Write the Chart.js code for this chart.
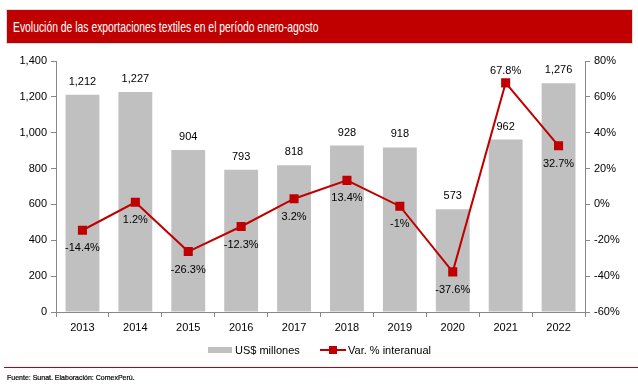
<!DOCTYPE html>
<html><head><meta charset="utf-8">
<script src="https://cdn.jsdelivr.net/npm/chart.js@4"></script>
<style>
html,body{margin:0;padding:0;background:#fff;width:638px;height:391px;overflow:hidden;font-family:"Liberation Sans",Arial,sans-serif;}
#wrap{position:absolute;left:0;top:0;width:638px;height:391px;}
#title{position:absolute;left:6px;top:9px;width:627px;height:35px;background:#C00000;color:#fff;font-size:14.5px;line-height:34px;box-sizing:border-box;padding-left:6px;border:1px solid #dcdcdc;white-space:nowrap;}
#title span{display:inline-block;transform:scaleX(0.715);transform-origin:left center;}
#legend{position:absolute;top:343px;left:0;width:638px;height:14px;font-size:11px;color:#000;}
.lg{position:absolute;top:0;line-height:14px;}
#rule{position:absolute;left:4px;right:0;top:367px;height:1px;background:#C00000;}
#src{position:absolute;left:7px;top:374px;font-size:7px;color:#000;font-weight:normal;-webkit-text-stroke:0.2px #000;}
canvas{position:absolute;left:0;top:0;}
</style></head>
<body><div id="wrap">
<canvas id="c" width="638" height="391"></canvas>
<div id="title"><span>Evolución de las exportaciones textiles en el período enero-agosto</span></div>
<div id="legend">
 <div class="lg" style="left:208px;top:4px;width:24px;height:6px;background:#C0C0C0"></div>
 <div class="lg" style="left:235px;">US$ millones</div>
 <div class="lg" style="left:320px;top:6px;width:26px;height:2px;background:#C00000"></div>
 <div class="lg" style="left:329px;top:3px;width:8px;height:8px;background:#C00000"></div>
 <div class="lg" style="left:348px;">Var. % interanual</div>
</div>
<div id="rule"></div>
<div id="src">Fuente: Sunat. Elaboración: ComexPerú.</div>
</div>
<script>
const years = ["2013","2014","2015","2016","2017","2018","2019","2020","2021","2022"];
const exportsUSD = [1212,1227,904,793,818,928,918,573,962,1276];
const varPct = [-14.4,1.2,-26.3,-12.3,3.2,13.4,-1,-37.6,67.8,32.7];
const barLabels = ["1,212","1,227","904","793","818","928","918","573","962","1,276"];
const pctLabels = ["-14.4%","1.2%","-26.3%","-12.3%","3.2%","13.4%","-1%","-37.6%","67.8%","32.7%"];

const FONT = "Liberation Sans";
const labelPlugin = {
  id:'labels',
  afterDatasetsDraw(chart){
    const ctx = chart.ctx;
    ctx.save();
    ctx.font = "11px " + FONT;
    ctx.fillStyle = "#000";
    ctx.textAlign = "center";
    ctx.textBaseline = "middle";
    chart.getDatasetMeta(0).data.forEach((el,i)=>{
      ctx.fillText(barLabels[i], el.x, el.y - 13);
    });
    const yScale = chart.scales.y1;
    chart.getDatasetMeta(1).data.forEach((el,i)=>{
      // labels go below the marker, except when the marker is near the top of the plot
      const above = el.y - yScale.top < 40;
      ctx.fillText(pctLabels[i], el.x, above ? el.y - 12 : el.y + 18);
    });
    ctx.restore();
  }
};

new Chart(document.getElementById('c'), {
  data:{
    labels: years,
    datasets:[
      {type:'bar', label:'US$ millones', data: exportsUSD, backgroundColor:'#C0C0C0', yAxisID:'y', categoryPercentage:1, barPercentage:0.64, order:2},
      {type:'line', label:'Var. % interanual', data: varPct, borderColor:'#C00000', backgroundColor:'#C00000', borderWidth:2, pointStyle:'rect', pointRadius:5, pointHoverRadius:5, yAxisID:'y1', order:1, tension:0}
    ]
  },
  options:{
    responsive:false, animation:false, events:[],
    layout:{padding:{top:61,left:0,right:0,bottom:0}},
    plugins:{legend:{display:false}, tooltip:{enabled:false}},
    scales:{
      x:{
        grid:{display:true, drawOnChartArea:false, offset:true, color:'#888', tickLength:5},
        border:{color:'#888'},
        ticks:{color:'#000', font:{family:FONT,size:11}, padding:4},
        afterFit(s){ s.height = 79; }
      },
      y:{
        position:'left', min:0, max:1400,
        ticks:{stepSize:200, color:'#000', font:{family:FONT,size:11}, padding:4,
          callback:v=>v.toLocaleString('en-US')},
        grid:{display:true, drawOnChartArea:false, color:'#888', tickLength:5},
        border:{color:'#888'},
        afterFit(s){ s.width = 56; }
      },
      y1:{
        position:'right', min:-60, max:80,
        ticks:{stepSize:20, color:'#000', font:{family:FONT,size:11}, padding:4, callback:v=>v+'%'},
        grid:{display:true, drawOnChartArea:false, color:'#888', tickLength:5},
        border:{color:'#888'},
        afterFit(s){ s.width = 53; }
      }
    }
  },
  plugins:[labelPlugin]
});
</script>
</body></html>
